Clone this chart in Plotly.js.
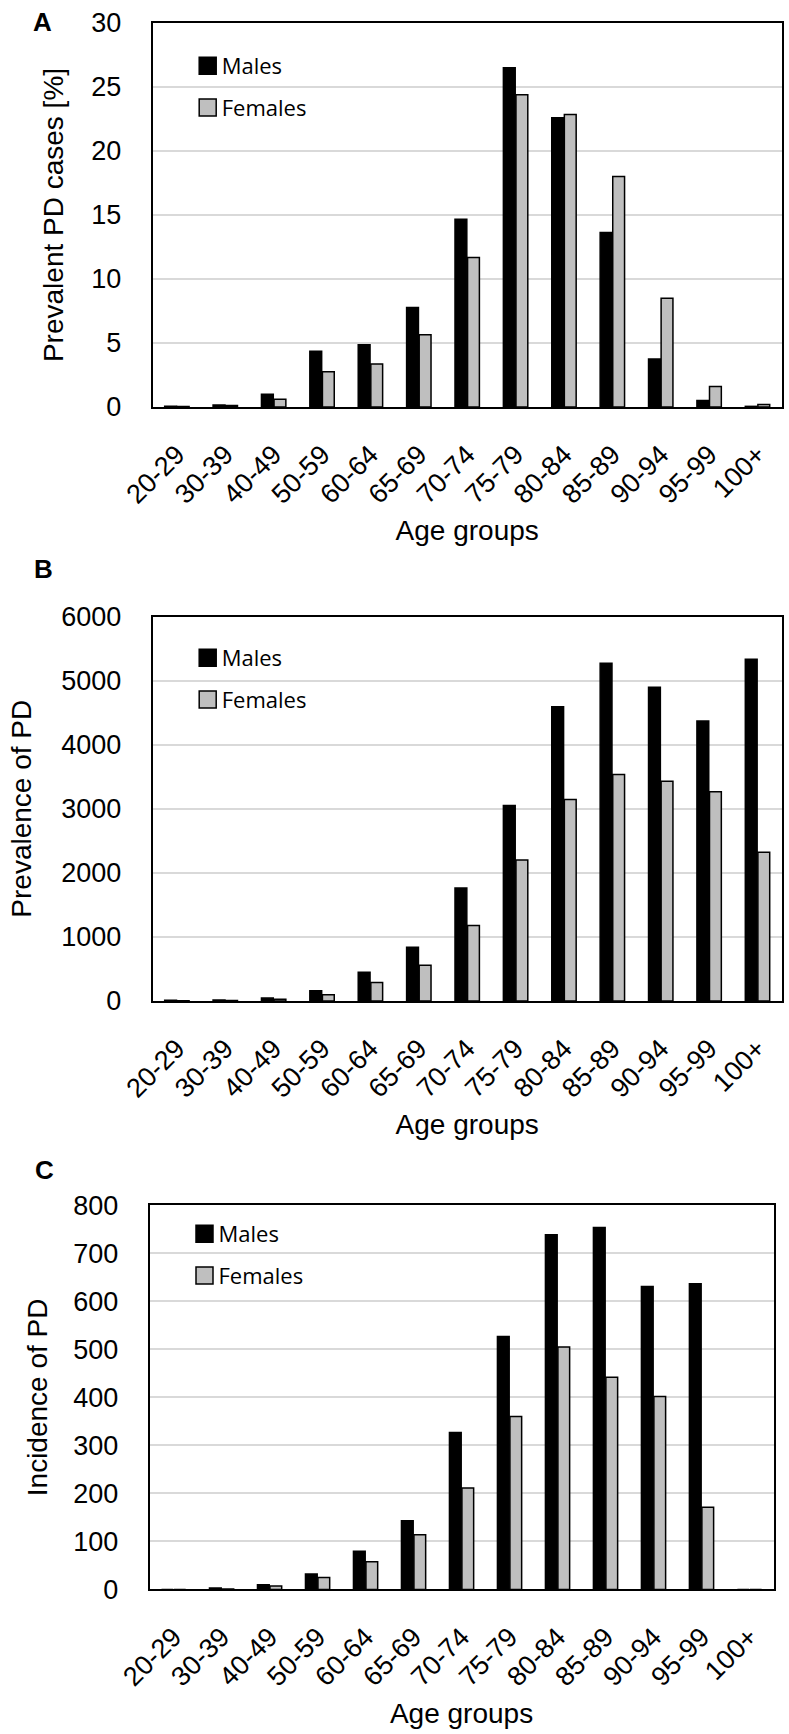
<!DOCTYPE html>
<html>
<head>
<meta charset="utf-8">
<script src="https://cdn.plot.ly/plotly-3.0.1.min.js"></script>
<style>html,body{margin:0;padding:0;background:#fff;}#chart{width:789px;height:1734px;}</style>
</head>
<body>
<div id="chart"></div>
<script>
const ageGroups = ['20-29','30-39','40-49','50-59','60-64','65-69','70-74','75-79','80-84','85-89','90-94','95-99','100+'];
// Panel A: prevalent PD cases [%]
const prevPctMales   = [0.05, 0.15, 1.0, 4.36, 4.86, 7.78, 14.67, 26.5, 22.6, 13.64, 3.75, 0.5, 0.05];
const prevPctFemales = [0.03, 0.12, 0.6, 2.75, 3.36, 5.64, 11.67, 24.4, 22.86, 18.0, 8.5, 1.6, 0.2];
// Panel B: prevalence of PD
const prevMales   = [10, 15, 46, 160, 448, 839, 1764, 3052, 4592, 5270, 4897, 4368, 5333];
const prevFemales = [5, 8, 29, 98, 287, 557, 1178, 2201, 3144, 3534, 3431, 3264, 2322];
// Panel C: incidence of PD
const incMales   = [0, 3, 9.5, 32, 79.5, 143, 327, 527, 739, 754, 631, 637, 0];
const incFemales = [0, 1, 7, 25, 57.5, 114, 211, 360, 505, 442, 402, 171, 0];

const panelLetters = ['A', 'B', 'C'];
const yTitles = ['Prevalent PD cases [%]', 'Prevalence of PD', 'Incidence of PD'];
const xTitle = 'Age groups';
const seriesNames = ['Males', 'Females'];

const FONT = '"Liberation Sans", Arial, sans-serif';
const LEGFONT = '"Open Sans", "Liberation Sans", sans-serif';
const W = 789, H = 1734;

function bar(name, y, xa, ya, leg, fill, grp) {
  return {
    type: 'bar', name: name, x: ageGroups, y: y, xaxis: xa, yaxis: ya,
    legend: leg, legendgroup: grp + leg,
    marker: {color: fill, line: {color: '#000', width: 1.5}},
    hoverinfo: 'x+y'
  };
}

const data = [
  bar(seriesNames[0], prevPctMales, 'x', 'y', 'legend', '#000000', 'm'),
  bar(seriesNames[1], prevPctFemales, 'x', 'y', 'legend', '#bfbfbf', 'f'),
  bar(seriesNames[0], prevMales, 'x2', 'y2', 'legend2', '#000000', 'm'),
  bar(seriesNames[1], prevFemales, 'x2', 'y2', 'legend2', '#bfbfbf', 'f'),
  bar(seriesNames[0], incMales, 'x3', 'y3', 'legend3', '#000000', 'm'),
  bar(seriesNames[1], incFemales, 'x3', 'y3', 'legend3', '#bfbfbf', 'f')
];

function px(v) { return v / W; }
function py(v) { return 1 - v / H; }

function xaxis(dom, anchor) {
  return {
    domain: dom, anchor: anchor, type: 'category',
    showline: true, mirror: true, linecolor: '#000', linewidth: 2,
    showgrid: false, zeroline: false, ticks: '', tickangle: -45,
    ticklabelstandoff: 19,
    tickfont: {family: FONT, size: 27, color: '#000'},
    title: {text: xTitle, font: {family: FONT, size: 28, color: '#000'}, standoff: 12},
    automargin: false, fixedrange: true
  };
}
function yaxis(dom, anchor, range, dtick, title, standoff) {
  return {
    domain: dom, anchor: anchor, range: range, dtick: dtick, tick0: 0,
    showline: true, mirror: true, linecolor: '#000', linewidth: 2,
    showgrid: true, gridcolor: '#d9d9d9', gridwidth: 2, zeroline: false,
    ticks: '', ticklabelstandoff: 24,
    tickfont: {family: FONT, size: 27, color: '#000'},
    title: {text: title, font: {family: FONT, size: 28, color: '#000'}, standoff: standoff},
    automargin: false, fixedrange: true
  };
}
function legend(x, y) {
  return {
    x: x, y: y, xanchor: 'left', yanchor: 'top', bgcolor: 'rgba(0,0,0,0)',
    font: {family: LEGFONT, size: 22, color: '#000'},
    traceorder: 'grouped', tracegroupgap: 10, borderwidth: 0
  };
}

const layout = {
  width: W, height: H, autosize: false,
  margin: {l: 0, r: 0, t: 0, b: 0, pad: 0},
  paper_bgcolor: '#fff', plot_bgcolor: '#fff',
  barmode: 'group', bargap: 0.48, bargroupgap: 0.06,
  xaxis:  xaxis([px(152.7), px(781.7)], 'y'),
  yaxis:  yaxis([py(407), py(23)], 'x', [0, 30], 5, yTitles[0], 19),
  xaxis2: xaxis([px(152.7), px(781.7)], 'y2'),
  yaxis2: yaxis([py(1001), py(616.5)], 'x2', [0, 6000], 1000, yTitles[1], 21),
  xaxis3: xaxis([px(149.6), px(773.5)], 'y3'),
  yaxis3: yaxis([py(1589.4), py(1205.4)], 'x3', [0, 800], 100, yTitles[2], 17),
  legend:  legend(px(181.7), py(45)),
  legend2: legend(px(181.7), py(637)),
  legend3: legend(px(178.5), py(1213)),
  annotations: [
    {text: '<b>' + panelLetters[0] + '</b>', x: px(42), y: py(22)},
    {text: '<b>' + panelLetters[1] + '</b>', x: px(43), y: py(569)},
    {text: '<b>' + panelLetters[2] + '</b>', x: px(44), y: py(1170)}
  ].map(a => Object.assign(a, {xref: 'paper', yref: 'paper', xanchor: 'center', yanchor: 'middle', showarrow: false,
    font: {family: FONT, size: 26, color: '#000'}}))
};

Plotly.newPlot('chart', data, layout, {displayModeBar: false, staticPlot: true}).then(function (gd) {
  // legend swatches as 17px squares placed just before the label, like the original figure
  gd.querySelectorAll('.legendpoints path').forEach(function (p) {
    p.setAttribute('d', 'M8.5,8.5H-8.5V-8.5H8.5Z');
    p.setAttribute('transform', 'translate(26,0)');
    p.style.strokeWidth = '1.5px';
  });
});
</script>
</body>
</html>
